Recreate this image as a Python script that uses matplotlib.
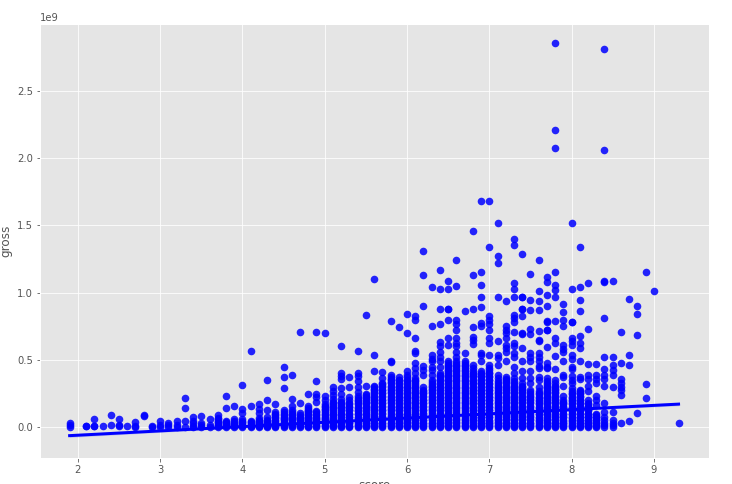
import matplotlib
matplotlib.use("Agg")
import matplotlib.pyplot as plt
import numpy as np

# gross values in units of 1e9, read per score column
g_1_9 = [0.035, 0.015, 0.005]
g_2_1 = [0.01, 0.008]
g_2_2 = [0.06, 0.01, 0.008]
g_2_3 = [0.008]
g_2_4 = [0.09, 0.015]
g_2_5 = [0.06, 0.02, 0.01]
g_2_6 = [0.008]
g_2_7 = [0.04, 0.01, 0.003]
g_2_8 = [0.09, 0.087]
g_2_9 = [0.008, 0.005]
g_3_0 = [0.05, 0.02, 0.005]
g_3_1 = [0.03, 0.02, 0.005]
g_3_2 = [0.05, 0.02, 0.005]
g_3_3 = [0.22, 0.145, 0.045, 0.005]
g_3_4 = [0.08, 0.05, 0.03, 0.01, 0.003]
g_3_5 = [0.085, 0.03, 0.015, 0.005]
g_3_6 = [0.065, 0.02, 0.005]
g_3_7 = [0.09, 0.07, 0.05, 0.03, 0.01, 0.003]
g_3_8 = [0.235, 0.145, 0.05, 0.03, 0.015, 0.005]
g_3_9 = [0.16, 0.06, 0.03, 0.015, 0.005]
g_4_0 = [0.315, 0.135, 0.105, 0.06, 0.04, 0.02, 0.005]
g_4_1 = [0.57, 0.16, 0.05, 0.03, 0.01, 0.003]
g_4_2 = [0.17, 0.135, 0.105, 0.07, 0.05, 0.03, 0.01, 0.003]
g_4_3 = [0.35, 0.2, 0.13, 0.075, 0.05, 0.03, 0.01, 0.003]
g_4_4 = [0.17, 0.11, 0.09, 0.07, 0.05, 0.03, 0.01, 0.003]
g_4_5 = [0.445, 0.37, 0.295, 0.125, 0.1, 0.08, 0.06, 0.04, 0.02, 0.003]
g_4_6 = [0.385, 0.21, 0.155, 0.13, 0.1, 0.08, 0.06, 0.04, 0.02, 0.003]
g_4_7 = [0.71, 0.177, 0.105, 0.08, 0.06, 0.04, 0.02, 0.003]
g_4_8 = [0.245, 0.155, 0.13, 0.11, 0.09, 0.07, 0.05, 0.03, 0.01, 0.003]
g_4_9 = [0.71, 0.34, 0.25, 0.225, 0.19, 0.12, 0.1, 0.08, 0.06, 0.04, 0.02, 0.003]
g_5_0 = [0.70, 0.235, 0.2, 0.17, 0.15, 0.125, 0.1, 0.08, 0.06, 0.04, 0.02, 0.003]
g_5_1 = [0.3, 0.27, 0.24, 0.21, 0.19, 0.165, 0.14, 0.115, 0.09, 0.065, 0.04, 0.02, 0.003]
g_5_2 = [0.605, 0.405, 0.38, 0.355, 0.29, 0.25, 0.21, 0.19, 0.165, 0.14, 0.115, 0.09, 0.065, 0.04, 0.02, 0.003]
g_5_3 = [0.37, 0.3, 0.225, 0.2, 0.175, 0.15, 0.125, 0.1, 0.075, 0.05, 0.03, 0.01, 0.003]
g_5_4 = [0.565, 0.405, 0.38, 0.34, 0.30, 0.26, 0.235, 0.22, 0.195, 0.17, 0.145, 0.12, 0.095, 0.07, 0.045, 0.02, 0.003]
g_5_5 = [0.83, 0.31, 0.25, 0.24, 0.215, 0.19, 0.165, 0.14, 0.115, 0.09, 0.065, 0.04, 0.02, 0.003]
g_5_6 = [1.10, 0.535, 0.42, 0.31, 0.285, 0.26, 0.235, 0.21, 0.185, 0.16, 0.135, 0.11, 0.085, 0.06, 0.035, 0.015, 0.003]
g_5_7 = [0.41, 0.365, 0.33, 0.305, 0.28, 0.255, 0.23, 0.205, 0.18, 0.155, 0.13, 0.105, 0.08, 0.055, 0.03, 0.015, 0.003]
g_5_8 = [0.79, 0.495, 0.487, 0.385, 0.36, 0.335, 0.31, 0.285, 0.26, 0.235, 0.21, 0.185, 0.16, 0.135, 0.11, 0.085, 0.06, 0.035, 0.015, 0.003]
g_5_9 = [0.745, 0.375, 0.35, 0.325, 0.3, 0.275, 0.25, 0.225, 0.2, 0.175, 0.15, 0.125, 0.1, 0.075, 0.05, 0.03, 0.015, 0.003]
g_6_0 = [0.84, 0.70, 0.42, 0.39, 0.37, 0.34, 0.315, 0.29, 0.265, 0.24, 0.215, 0.19, 0.165, 0.14, 0.115, 0.09, 0.065, 0.04, 0.02, 0.003]
g_6_1 = [0.825, 0.795, 0.66, 0.57, 0.55, 0.475, 0.44, 0.40, 0.365, 0.34, 0.315, 0.29, 0.265, 0.24, 0.215, 0.19, 0.165, 0.14, 0.115, 0.09, 0.065, 0.04, 0.02, 0.003]
g_6_2 = [1.31, 1.127, 0.90, 0.455, 0.425, 0.39, 0.30, 0.28, 0.255, 0.23, 0.205, 0.18, 0.155, 0.13, 0.105, 0.08, 0.055, 0.03, 0.015, 0.003]
g_6_3 = [1.04, 0.755, 0.535, 0.51, 0.49, 0.45, 0.425, 0.39, 0.35, 0.335, 0.31, 0.285, 0.26, 0.235, 0.21, 0.185, 0.16, 0.135, 0.11, 0.085, 0.06, 0.035, 0.015, 0.003]
g_6_4 = [1.165, 1.03, 0.875, 0.765, 0.635, 0.6, 0.56, 0.525, 0.49, 0.45, 0.40, 0.375, 0.35, 0.325, 0.3, 0.275, 0.25, 0.225, 0.2, 0.175, 0.15, 0.125, 0.1, 0.075, 0.05, 0.03, 0.015, 0.003]
g_6_5 = [1.085, 1.03, 0.88, 0.875, 0.80, 0.66, 0.61, 0.49, 0.465, 0.44, 0.415, 0.39, 0.365, 0.34, 0.315, 0.29, 0.265, 0.24, 0.215, 0.19, 0.165, 0.14, 0.115, 0.09, 0.065, 0.04, 0.02, 0.003]
g_6_6 = [1.24, 1.047, 0.80, 0.77, 0.72, 0.66, 0.625, 0.6, 0.56, 0.525, 0.49, 0.465, 0.44, 0.415, 0.39, 0.365, 0.34, 0.315, 0.29, 0.265, 0.24, 0.215, 0.19, 0.165, 0.14, 0.115, 0.09, 0.065, 0.04, 0.02, 0.003]
g_6_7 = [0.86, 0.555, 0.49, 0.465, 0.44, 0.415, 0.39, 0.365, 0.34, 0.315, 0.29, 0.265, 0.24, 0.215, 0.19, 0.165, 0.14, 0.115, 0.09, 0.065, 0.04, 0.02, 0.003]
g_6_8 = [1.455, 1.127, 0.875, 0.745, 0.67, 0.645, 0.62, 0.46, 0.44, 0.42, 0.395, 0.37, 0.345, 0.32, 0.295, 0.27, 0.245, 0.22, 0.195, 0.17, 0.145, 0.12, 0.095, 0.07, 0.045, 0.02, 0.003]
g_6_9 = [1.68, 1.15, 1.055, 0.965, 0.89, 0.775, 0.755, 0.55, 0.54, 0.49, 0.42, 0.405, 0.38, 0.355, 0.33, 0.305, 0.28, 0.255, 0.23, 0.205, 0.18, 0.155, 0.13, 0.105, 0.08, 0.055, 0.03, 0.015, 0.003]
g_7_0 = [1.68, 1.335, 0.825, 0.80, 0.77, 0.72, 0.66, 0.625, 0.54, 0.465, 0.44, 0.425, 0.4, 0.375, 0.35, 0.325, 0.3, 0.275, 0.25, 0.225, 0.2, 0.175, 0.15, 0.125, 0.1, 0.075, 0.05, 0.03, 0.015, 0.003]
g_7_1 = [1.52, 1.27, 1.22, 0.965, 0.64, 0.54, 0.515, 0.465, 0.39, 0.365, 0.34, 0.315, 0.29, 0.265, 0.24, 0.215, 0.19, 0.165, 0.14, 0.115, 0.09, 0.065, 0.04, 0.02, 0.003]
g_7_2 = [0.935, 0.75, 0.725, 0.70, 0.66, 0.61, 0.59, 0.56, 0.495, 0.375, 0.36, 0.335, 0.31, 0.285, 0.26, 0.235, 0.21, 0.185, 0.16, 0.135, 0.11, 0.085, 0.06, 0.035, 0.015, 0.003]
g_7_3 = [1.40, 1.35, 1.07, 1.03, 0.97, 0.835, 0.81, 0.785, 0.71, 0.625, 0.60, 0.55, 0.525, 0.45, 0.40, 0.365, 0.34, 0.315, 0.29, 0.265, 0.24, 0.215, 0.19, 0.165, 0.14, 0.115, 0.09, 0.065, 0.04, 0.02, 0.003]
g_7_4 = [1.285, 0.97, 0.965, 0.88, 0.875, 0.825, 0.70, 0.69, 0.585, 0.49, 0.415, 0.365, 0.33, 0.31, 0.285, 0.26, 0.235, 0.21, 0.185, 0.16, 0.135, 0.11, 0.085, 0.06, 0.035, 0.015, 0.003]
g_7_5 = [1.135, 0.945, 0.87, 0.73, 0.69, 0.55, 0.525, 0.49, 0.415, 0.365, 0.33, 0.28, 0.26, 0.235, 0.21, 0.185, 0.16, 0.135, 0.11, 0.085, 0.06, 0.035, 0.015, 0.003]
g_7_6 = [1.245, 1.01, 0.935, 0.87, 0.715, 0.645, 0.64, 0.55, 0.525, 0.49, 0.455, 0.44, 0.375, 0.35, 0.30, 0.27, 0.245, 0.22, 0.195, 0.17, 0.145, 0.12, 0.095, 0.07, 0.045, 0.02, 0.003]
g_7_7 = [1.115, 1.08, 0.98, 0.90, 0.79, 0.785, 0.725, 0.72, 0.595, 0.475, 0.45, 0.44, 0.365, 0.34, 0.315, 0.29, 0.265, 0.24, 0.215, 0.19, 0.165, 0.14, 0.115, 0.09, 0.065, 0.04, 0.02, 0.003]
g_7_8 = [2.85, 2.205, 2.07, 1.155, 1.06, 1.02, 0.965, 0.79, 0.66, 0.625, 0.53, 0.43, 0.35, 0.33, 0.31, 0.285, 0.26, 0.235, 0.21, 0.185, 0.16, 0.135, 0.11, 0.085, 0.06, 0.035, 0.015, 0.003]
g_7_9 = [0.915, 0.855, 0.80, 0.75, 0.61, 0.58, 0.56, 0.49, 0.39, 0.375, 0.31, 0.23, 0.20, 0.175, 0.15, 0.125, 0.1, 0.075, 0.05, 0.03, 0.015, 0.003]
g_8_0 = [1.52, 1.025, 0.785, 0.78, 0.66, 0.64, 0.61, 0.54, 0.51, 0.45, 0.43, 0.38, 0.35, 0.33, 0.29, 0.27, 0.245, 0.22, 0.195, 0.17, 0.145, 0.12, 0.095, 0.07, 0.045, 0.02, 0.003]
g_8_1 = [1.34, 1.04, 0.945, 0.86, 0.68, 0.625, 0.585, 0.495, 0.375, 0.355, 0.28, 0.255, 0.23, 0.205, 0.18, 0.155, 0.13, 0.105, 0.08, 0.055, 0.03, 0.015, 0.003]
g_8_2 = [1.07, 0.73, 0.47, 0.385, 0.36, 0.31, 0.27, 0.2, 0.175, 0.15, 0.125, 0.1, 0.075, 0.05, 0.03, 0.015, 0.003]
g_8_3 = [0.47, 0.385, 0.36, 0.33, 0.23, 0.2, 0.165, 0.10, 0.08, 0.06, 0.04, 0.02, 0.003]
g_8_4 = [2.81, 2.06, 1.085, 1.075, 0.81, 0.525, 0.43, 0.385, 0.36, 0.305, 0.18, 0.115, 0.08, 0.055, 0.03, 0.015, 0.005]
g_8_5 = [1.085, 0.525, 0.465, 0.425, 0.385, 0.30, 0.115, 0.055, 0.03, 0.015, 0.005]
g_8_6 = [0.705, 0.48, 0.36, 0.33, 0.30, 0.275, 0.24, 0.03]
g_8_7 = [0.95, 0.54, 0.465, 0.05]
g_8_8 = [0.90, 0.84, 0.685, 0.105]
g_8_9 = [1.15, 0.325, 0.215]
g_9_0 = [1.01]
g_9_3 = [0.03]

# the many overlapping films in the saturated lower part of each column
core_3_7 = [0.02, 0.04, 0.06]
core_3_8 = [0.008, 0.022, 0.04]
core_3_9 = [0.008, 0.022, 0.045]
core_4_0 = [0.012, 0.03, 0.05]
core_4_1 = [0.008, 0.02, 0.04]
core_4_2 = [0.012, 0.03, 0.052]
core_4_3 = [0.012, 0.03, 0.052]
core_4_4 = [0.012, 0.03, 0.052, 0.078, 0.1]
core_4_5 = [0.012, 0.03, 0.052, 0.07, 0.09, 0.112]
core_4_6 = [0.012, 0.03, 0.052, 0.07, 0.09, 0.115]
core_4_7 = [0.012, 0.03, 0.052, 0.07, 0.09]
core_4_8 = [0.012, 0.03, 0.052, 0.078, 0.102, 0.12, 0.142]
core_4_9 = [0.012, 0.03, 0.052, 0.07, 0.09, 0.11]
core_5_0 = [0.012, 0.03, 0.052, 0.07, 0.09, 0.112, 0.138, 0.16]
core_5_1 = [0.012, 0.03, 0.052, 0.078, 0.102, 0.128, 0.152, 0.178]
core_5_2 = [0.012, 0.03, 0.052, 0.078, 0.102, 0.128, 0.152, 0.178]
core_5_3 = [0.012, 0.03, 0.052, 0.078, 0.102, 0.128, 0.152, 0.178]
core_5_4 = [0.012, 0.03, 0.052, 0.078, 0.102, 0.128, 0.152, 0.178, 0.202]
core_5_5 = [0.012, 0.03, 0.052, 0.078, 0.102, 0.128, 0.152, 0.178, 0.202, 0.228]
core_5_6 = [0.012, 0.03, 0.052, 0.078, 0.102, 0.128, 0.152, 0.178, 0.202, 0.228, 0.252, 0.278, 0.302]
core_5_7 = [0.012, 0.03, 0.052, 0.078, 0.102, 0.128, 0.152, 0.178, 0.202, 0.228, 0.252, 0.278, 0.302, 0.32]
core_5_8 = [0.012, 0.03, 0.052, 0.078, 0.102, 0.128, 0.152, 0.178, 0.202, 0.228, 0.252, 0.278, 0.302, 0.328, 0.352, 0.375]
core_5_9 = [0.012, 0.03, 0.052, 0.078, 0.102, 0.128, 0.152, 0.178, 0.202, 0.228, 0.252, 0.278, 0.302, 0.328, 0.352]
core_6_0 = [0.012, 0.03, 0.052, 0.078, 0.102, 0.128, 0.152, 0.178, 0.202, 0.228, 0.252, 0.278, 0.302, 0.328, 0.352]
core_6_1 = [0.012, 0.03, 0.052, 0.078, 0.102, 0.128, 0.152, 0.178, 0.202, 0.228, 0.252, 0.278, 0.302, 0.328, 0.352]
core_6_2 = [0.012, 0.03, 0.052, 0.078, 0.102, 0.128, 0.152, 0.178, 0.202, 0.228, 0.252, 0.27]
core_6_3 = [0.012, 0.03, 0.052, 0.078, 0.102, 0.128, 0.152, 0.178, 0.202, 0.228, 0.252, 0.278, 0.302, 0.325]
core_6_4 = [0.012, 0.03, 0.052, 0.078, 0.102, 0.128, 0.152, 0.178, 0.202, 0.228, 0.252, 0.278, 0.302, 0.328, 0.352, 0.378, 0.39]
core_6_5 = [0.012, 0.03, 0.052, 0.078, 0.102, 0.128, 0.152, 0.178, 0.202, 0.228, 0.252, 0.278, 0.302, 0.328, 0.352, 0.378, 0.402, 0.428, 0.452, 0.478]
core_6_6 = [0.012, 0.03, 0.052, 0.078, 0.102, 0.128, 0.152, 0.178, 0.202, 0.228, 0.252, 0.278, 0.302, 0.328, 0.352, 0.378, 0.402, 0.428, 0.452, 0.478]
core_6_7 = [0.012, 0.03, 0.052, 0.078, 0.102, 0.128, 0.152, 0.178, 0.202, 0.228, 0.252, 0.278, 0.302, 0.328, 0.352, 0.378, 0.402, 0.428, 0.452, 0.478]
core_6_8 = [0.012, 0.03, 0.052, 0.078, 0.102, 0.128, 0.152, 0.178, 0.202, 0.228, 0.252, 0.278, 0.302, 0.328, 0.352, 0.378, 0.402]
core_6_9 = [0.012, 0.03, 0.052, 0.078, 0.102, 0.128, 0.152, 0.178, 0.202, 0.228, 0.252, 0.278, 0.302, 0.328, 0.352, 0.378, 0.395]
core_7_0 = [0.012, 0.03, 0.052, 0.078, 0.102, 0.128, 0.152, 0.178, 0.202, 0.228, 0.252, 0.278, 0.302, 0.328, 0.352, 0.378, 0.402]
core_7_1 = [0.012, 0.03, 0.052, 0.078, 0.102, 0.128, 0.152, 0.178, 0.202, 0.228, 0.252, 0.278, 0.302, 0.328]
core_7_2 = [0.012, 0.03, 0.052, 0.078, 0.102, 0.128, 0.152, 0.178, 0.202, 0.228, 0.252, 0.278, 0.302, 0.328, 0.35]
core_7_3 = [0.012, 0.03, 0.052, 0.078, 0.102, 0.128, 0.152, 0.178, 0.202, 0.228, 0.252, 0.278, 0.302, 0.328]
core_7_4 = [0.012, 0.03, 0.052, 0.078, 0.102, 0.128, 0.152, 0.178, 0.202, 0.228, 0.252, 0.278, 0.30]
core_7_5 = [0.012, 0.03, 0.052, 0.078, 0.102, 0.128, 0.152, 0.178, 0.202, 0.228, 0.25]
core_7_6 = [0.012, 0.03, 0.052, 0.078, 0.102, 0.128, 0.152, 0.178, 0.202, 0.228, 0.252]
core_7_7 = [0.012, 0.03, 0.052, 0.078, 0.102, 0.128, 0.152, 0.178, 0.202, 0.228, 0.252, 0.278, 0.302, 0.328]
core_7_8 = [0.012, 0.03, 0.052, 0.078, 0.102, 0.128, 0.152, 0.178, 0.202, 0.228, 0.252, 0.278, 0.30]
core_7_9 = [0.012, 0.03, 0.052, 0.078, 0.102, 0.128, 0.152, 0.178, 0.19]
core_8_0 = [0.012, 0.03, 0.052, 0.078, 0.102, 0.128, 0.152, 0.178, 0.202, 0.228, 0.252]
core_8_1 = [0.012, 0.03, 0.052, 0.078, 0.102, 0.128, 0.152, 0.178, 0.202, 0.228, 0.252, 0.27]
core_8_2 = [0.012, 0.03, 0.052, 0.078, 0.102, 0.128, 0.152, 0.178]
core_8_3 = [0.012, 0.03, 0.052, 0.078, 0.09]

scores = [1.9, 2.1, 2.2, 2.3, 2.4, 2.5, 2.6, 2.7, 2.8, 2.9,
          3.0, 3.1, 3.2, 3.3, 3.4, 3.5, 3.6, 3.7, 3.8, 3.9,
          4.0, 4.1, 4.2, 4.3, 4.4, 4.5, 4.6, 4.7, 4.8, 4.9,
          5.0, 5.1, 5.2, 5.3, 5.4, 5.5, 5.6, 5.7, 5.8, 5.9,
          6.0, 6.1, 6.2, 6.3, 6.4, 6.5, 6.6, 6.7, 6.8, 6.9,
          7.0, 7.1, 7.2, 7.3, 7.4, 7.5, 7.6, 7.7, 7.8, 7.9,
          8.0, 8.1, 8.2, 8.3, 8.4, 8.5, 8.6, 8.7, 8.8, 8.9,
          9.0, 9.3]
columns = [g_1_9, g_2_1, g_2_2, g_2_3, g_2_4, g_2_5, g_2_6, g_2_7, g_2_8, g_2_9,
           g_3_0, g_3_1, g_3_2, g_3_3, g_3_4, g_3_5, g_3_6, g_3_7, g_3_8, g_3_9,
           g_4_0, g_4_1, g_4_2, g_4_3, g_4_4, g_4_5, g_4_6, g_4_7, g_4_8, g_4_9,
           g_5_0, g_5_1, g_5_2, g_5_3, g_5_4, g_5_5, g_5_6, g_5_7, g_5_8, g_5_9,
           g_6_0, g_6_1, g_6_2, g_6_3, g_6_4, g_6_5, g_6_6, g_6_7, g_6_8, g_6_9,
           g_7_0, g_7_1, g_7_2, g_7_3, g_7_4, g_7_5, g_7_6, g_7_7, g_7_8, g_7_9,
           g_8_0, g_8_1, g_8_2, g_8_3, g_8_4, g_8_5, g_8_6, g_8_7, g_8_8, g_8_9,
           g_9_0, g_9_3]
core_scores = [3.7, 3.8, 3.9,
               4.0, 4.1, 4.2, 4.3, 4.4, 4.5, 4.6, 4.7, 4.8, 4.9,
               5.0, 5.1, 5.2, 5.3, 5.4, 5.5, 5.6, 5.7, 5.8, 5.9,
               6.0, 6.1, 6.2, 6.3, 6.4, 6.5, 6.6, 6.7, 6.8, 6.9,
               7.0, 7.1, 7.2, 7.3, 7.4, 7.5, 7.6, 7.7, 7.8, 7.9,
               8.0, 8.1, 8.2, 8.3]
core_columns = [core_3_7, core_3_8, core_3_9,
                core_4_0, core_4_1, core_4_2, core_4_3, core_4_4, core_4_5, core_4_6, core_4_7, core_4_8, core_4_9,
                core_5_0, core_5_1, core_5_2, core_5_3, core_5_4, core_5_5, core_5_6, core_5_7, core_5_8, core_5_9,
                core_6_0, core_6_1, core_6_2, core_6_3, core_6_4, core_6_5, core_6_6, core_6_7, core_6_8, core_6_9,
                core_7_0, core_7_1, core_7_2, core_7_3, core_7_4, core_7_5, core_7_6, core_7_7, core_7_8, core_7_9,
                core_8_0, core_8_1, core_8_2, core_8_3]

fit_x = [1.9, 5.5, 9.3]
fit_y = [-0.062, 0.053, 0.172]
fit_low = [-0.075, 0.048, 0.160]
fit_high = [-0.050, 0.058, 0.184]

x_ticks = [2, 3, 4, 5, 6, 7, 8, 9]
y_ticks = [0.0, 0.5, 1.0, 1.5, 2.0, 2.5]

plt.style.use("ggplot")
W, H = 732, 484
fig = plt.figure(figsize=(W / 72, H / 72), dpi=72)
ax = fig.add_axes([40 / W, 1 - 458 / H, (709 - 40) / W, (458 - 24) / H])

all_scores = list(scores) + list(core_scores)
all_columns = list(columns) + list(core_columns)
xs = np.concatenate([[s] * len(c) for s, c in zip(all_scores, all_columns)])
ys = np.concatenate([np.array(c) for c in all_columns]) * 1e9

ax.scatter(xs, ys, s=58, c="blue", alpha=0.85, linewidths=0, zorder=2)
ax.fill_between(fit_x, np.array(fit_low) * 1e9, np.array(fit_high) * 1e9,
                color="blue", alpha=0.15, linewidth=0, zorder=3)
ax.plot(fit_x, np.array(fit_y) * 1e9, color="blue", linewidth=3, zorder=3)

ax.set_xlim(1.54, 9.67)
ax.set_ylim(-0.228e9, 2.994e9)
ax.set_xticks(x_ticks)
ax.set_yticks(np.array(y_ticks) * 1e9)
ax.set_xlabel("score")
ax.set_ylabel("gross")
ax.yaxis.set_label_coords((12 - 40) / (709 - 40), 0.5)

fig.savefig("out.png", dpi=72)
